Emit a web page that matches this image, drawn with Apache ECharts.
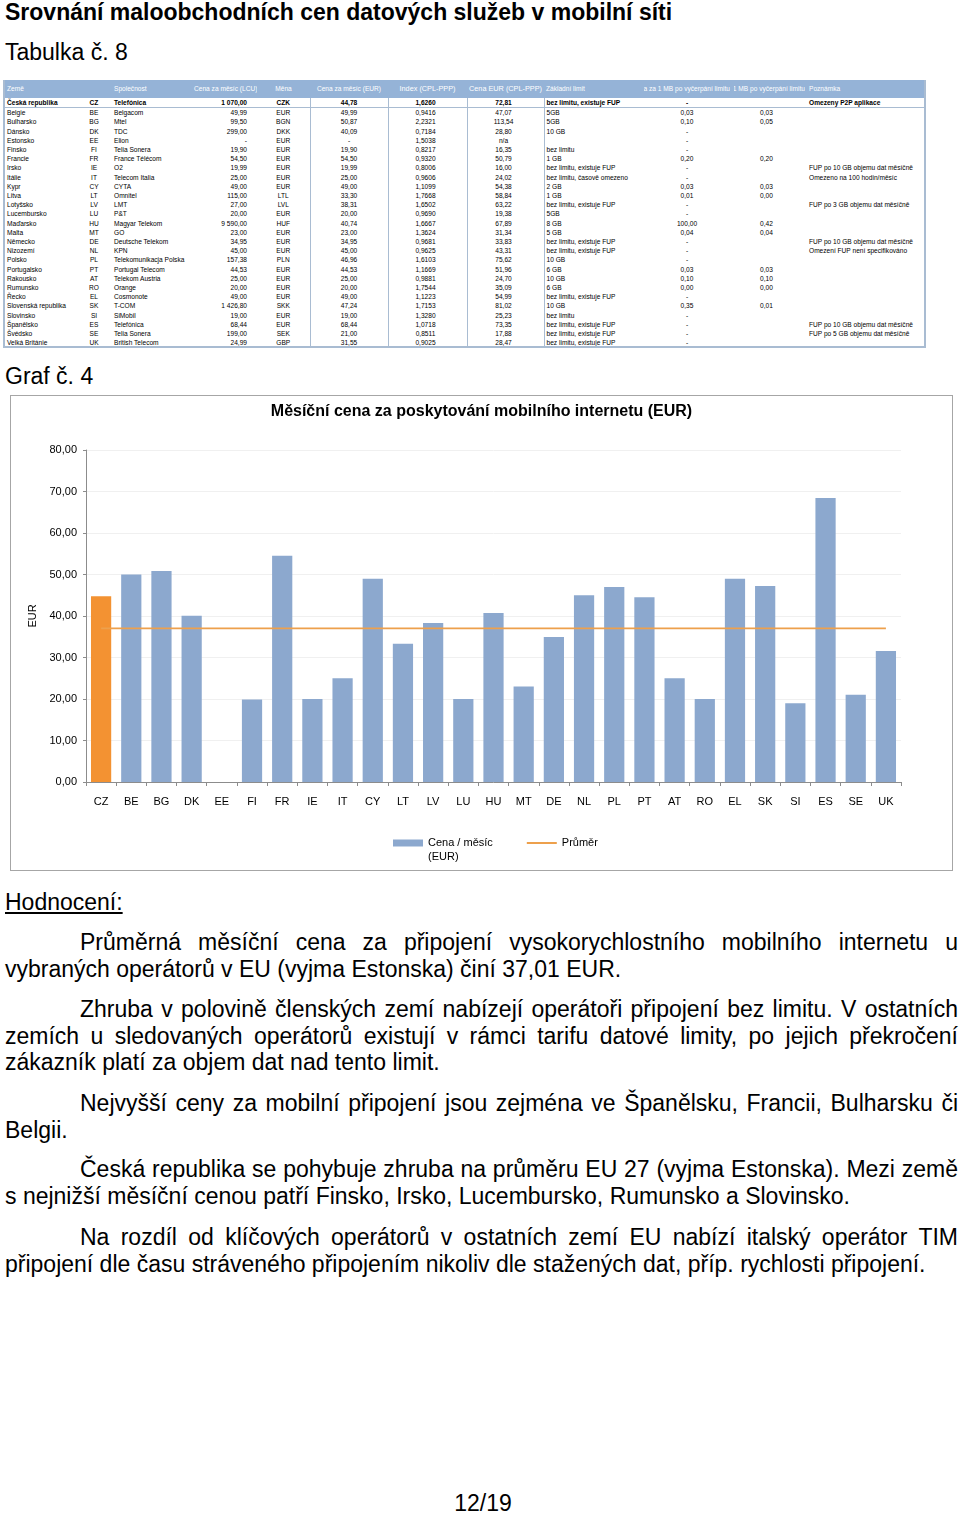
<!DOCTYPE html>
<html lang="cs">
<head>
<meta charset="utf-8">
<script src="https://cdn.jsdelivr.net/npm/echarts@6/dist/echarts.min.js"></script>
<style>
  html, body { margin: 0; padding: 0; background: #fff; }
  body { width: 960px; height: 1514px; position: relative; overflow: hidden; font-family: "Liberation Sans", Arial, sans-serif; color: #000; }
  .abs { position: absolute; }
  #title { left: 5px; top: -1px; font-size: 23px; font-weight: bold; line-height: 26px; white-space: nowrap; }
  .h2 { font-size: 23px; line-height: 26px; white-space: nowrap; }
  #tabwrap { left: 3px; top: 80px; width: 919px; height: 266px; border: 2px solid #a9bcd2; border-top: none; overflow: hidden; }
  table { border-collapse: collapse; table-layout: fixed; width: 919px; font-size: 6.6px; }
  td, th { padding: 0 2px; white-space: nowrap; overflow: hidden; height: 9.2px; line-height: 9.2px; }
  thead th { background: #95b3d7; color: #fff; font-weight: normal; height: 18px; line-height: 18px; font-size: 6.6px; }
  thead th.big { font-size: 7.3px; padding: 0; overflow: visible; }
  .l { text-align: left; } .c { text-align: center; } .r { text-align: right; }
  .vl { border-left: 1px solid #a9bcd2; }
  tr.cz td { font-weight: bold; border-bottom: 1px solid #a9bcd2; }
  .clip { display: flex; justify-content: flex-end; overflow: hidden; white-space: nowrap; }
  #chartbox { left: 10px; top: 395px; width: 941px; height: 474px; border: 1px solid #a6a6a6; }
  #chart { width: 941px; height: 474px; }
  .p { left: 5px; width: 953px; font-size: 23px; line-height: 26.7px; text-align: justify; text-indent: 75px; }
  #hodn { left: 5px; top: 889px; text-decoration: underline; }
  #page { left: 0; width: 966px; top: 1490px; text-align: center; font-size: 23px; line-height: 26px; }
</style>
</head>
<body>
<div id="title" class="abs">Srovnání maloobchodních cen datových služeb v mobilní síti</div>
<div class="abs h2" style="left:5px;top:39px;">Tabulka č. 8</div>
<div id="tabwrap" class="abs"><table id="tab"></table></div>
<div class="abs h2" style="left:5px;top:363px;">Graf č. 4</div>
<div id="chartbox" class="abs"><div id="chart"></div></div>
<div id="hodn" class="abs h2">Hodnocení:</div>
<div class="abs p" style="top:929px;">Průměrná měsíční cena za připojení vysokorychlostního mobilního internetu u vybraných operátorů v EU (vyjma Estonska) činí 37,01 EUR.</div>
<div class="abs p" style="top:996px;">Zhruba v polovině členských zemí nabízejí operátoři připojení bez limitu. V ostatních zemích u sledovaných operátorů existují v rámci tarifu datové limity, po jejich překročení zákazník platí za objem dat nad tento limit.</div>
<div class="abs p" style="top:1090px;">Nejvyšší ceny za mobilní připojení jsou zejména ve Španělsku, Francii, Bulharsku či Belgii.</div>
<div class="abs p" style="top:1156px;">Česká republika se pohybuje zhruba na průměru EU 27 (vyjma Estonska). Mezi země s nejnižší měsíční cenou patří Finsko, Irsko, Lucembursko, Rumunsko a Slovinsko.</div>
<div class="abs p" style="top:1224px;">Na rozdíl od klíčových operátorů v ostatních zemí EU nabízí italský operátor TIM připojení dle času stráveného připojením nikoliv dle stažených dat, příp. rychlosti připojení.</div>
<div id="page" class="abs">12/19</div>

<script>
// ---------- table data ----------
const headers = ["Země", "", "Společnost", "Cena za měsíc (LCU)", "Měna", "Cena za měsíc (EUR)", "Index (CPL-PPP)", "Cena EUR (CPL-PPP)", "Základní limit", "Cena za 1 MB po vyčerpání limitu", "Cena za 1 MB po vyčerpání limitu", "Poznámka"];
const countries = ["Česká republika","Belgie","Bulharsko","Dánsko","Estonsko","Finsko","Francie","Irsko","Itálie","Kypr","Litva","Lotyšsko","Lucembursko","Maďarsko","Malta","Německo","Nizozemí","Polsko","Portugalsko","Rakousko","Rumunsko","Řecko","Slovenská republika","Slovinsko","Španělsko","Švédsko","Velká Británie"];
const codes = ["CZ","BE","BG","DK","EE","FI","FR","IE","IT","CY","LT","LV","LU","HU","MT","DE","NL","PL","PT","AT","RO","EL","SK","SI","ES","SE","UK"];
const companies = ["Telefónica","Belgacom","Mtel","TDC","Elion","Telia Sonera","France Télécom","O2","Telecom Italia","CYTA","Omnitel","LMT","P&T","Magyar Telekom","GO","Deutsche Telekom","KPN","Telekomunikacja Polska","Portugal Telecom","Telekom Austria","Orange","Cosmonote","T-COM","SiMobil","Telefónica","Telia Sonera","British Telecom"];
const priceLcu = ["1 070,00","49,99","99,50","299,00","-","19,90","54,50","19,99","25,00","49,00","115,00","27,00","20,00","9 590,00","23,00","34,95","45,00","157,38","44,53","25,00","20,00","49,00","1 426,80","19,00","68,44","199,00","24,99"];
const currency = ["CZK","EUR","BGN","DKK","EUR","EUR","EUR","EUR","EUR","EUR","LTL","LVL","EUR","HUF","EUR","EUR","EUR","PLN","EUR","EUR","EUR","EUR","SKK","EUR","EUR","SEK","GBP"];
const priceEurText = ["44,78","49,99","50,87","40,09","-","19,90","54,50","19,99","25,00","49,00","33,30","38,31","20,00","40,74","23,00","34,95","45,00","46,96","44,53","25,00","20,00","49,00","47,24","19,00","68,44","21,00","31,55"];
const pppIndex = ["1,6260","0,9416","2,2321","0,7184","1,5038","0,8217","0,9320","0,8006","0,9606","1,1099","1,7668","1,6502","0,9690","1,6667","1,3624","0,9681","0,9625","1,6103","1,1669","0,9881","1,7544","1,1223","1,7153","1,3280","1,0718","0,8511","0,9025"];
const pricePpp = ["72,81","47,07","113,54","28,80","n/a","16,35","50,79","16,00","24,02","54,38","58,84","63,22","19,38","67,89","31,34","33,83","43,31","75,62","51,96","24,70","35,09","54,99","81,02","25,23","73,35","17,88","28,47"];
const baseLimit = ["bez limitu, existuje FUP","5GB","5GB","10 GB","","bez limitu","1 GB","bez limitu, existuje FUP","bez limitu, časově omezeno","2 GB","1 GB","bez limitu, existuje FUP","5GB","8 GB","5 GB","bez limitu, existuje FUP","bez limitu, existuje FUP","10 GB","6 GB","10 GB","6 GB","bez limitu, existuje FUP","10 GB","bez limitu","bez limitu, existuje FUP","bez limitu, existuje FUP","bez limitu, existuje FUP"];
const mbPriceA = ["-","0,03","0,10","-","-","-","0,20","-","-","0,03","0,01","-","-","100,00","0,04","-","-","-","0,03","0,10","0,00","-","0,35","-","-","-","-"];
const mbPriceB = ["","0,03","0,05","","","","0,20","","","0,03","0,00","","","0,42","0,04","","","","0,03","0,10","0,00","","0,01","","","",""];
const notes = ["Omezeny P2P aplikace","","","","","","","FUP po 10 GB objemu dat měsíčně","Omezeno na 100 hodin/měsíc","","","FUP po 3 GB objemu dat měsíčně","","","","FUP po 10 GB objemu dat měsíčně","Omezení FUP není specifikováno","","","","","","","","FUP po 10 GB objemu dat měsíčně","FUP po 5 GB objemu dat měsíčně",""];

// ---------- chart data ----------
const categories = codes;
const priceEur = [44.78,49.99,50.87,40.09,null,19.90,54.50,19.99,25.00,49.00,33.30,38.31,20.00,40.74,23.00,34.95,45.00,46.96,44.53,25.00,20.00,49.00,47.24,19.00,68.44,21.00,31.55];
const average = [37.01,37.01,37.01,37.01,37.01,37.01,37.01,37.01,37.01,37.01,37.01,37.01,37.01,37.01,37.01,37.01,37.01,37.01,37.01,37.01,37.01,37.01,37.01,37.01,37.01,37.01,37.01];
const yTicks = { min: 0, max: 80, interval: 10 };

// ---------- build table ----------
(function () {
  const widths = [77, 24, 86, 65, 53, 78, 79, 77, 98, 90, 75, 117];
  const hAlign = ['l','l','l','c','c','c','c','c','l','r','r','l'];
  const bAlign = ['l','c','l','r','c','c','c','c','l','c','l','l'];
  const vline = [false,false,false,false,false,true,true,true,true,false,false,false];
  const bodyPad = ['', '', 'padding-left:8px', 'padding-right:10px', '', '', 'padding-right:6px', 'padding-right:6px', '', '', 'padding-left:28px', ''];
  let h = '<colgroup>' + widths.map(w => '<col style="width:' + w + 'px">').join('') + '</colgroup>';
  h += '<thead><tr>' + headers.map((t, i) => {
    const big = (i === 6 || i === 7) ? ' big' : '';
    const pad = i === 2 ? ' style="padding-left:8px"' : '';
    if (i === 9 || i === 10) return '<th class="' + hAlign[i] + '"><div class="clip">' + t + '</div></th>';
    return '<th class="' + hAlign[i] + big + '"' + pad + '>' + t + '</th>';
  }).join('') + '</tr></thead><tbody>';
  for (let r = 0; r < countries.length; r++) {
    const cells = [countries[r], codes[r], companies[r], priceLcu[r], currency[r], priceEurText[r], pppIndex[r], pricePpp[r], baseLimit[r], mbPriceA[r], mbPriceB[r], notes[r]];
    h += '<tr' + (r === 0 ? ' class="cz"' : '') + '>' + cells.map((c, i) => {
      const cls = bAlign[i] + (vline[i] ? ' vl' : '');
      const style = bodyPad[i] ? ' style="' + bodyPad[i] + '"' : '';
      return '<td class="' + cls + '"' + style + '>' + c + '</td>';
    }).join('') + '</tr>';
  }
  h += '</tbody>';
  document.getElementById('tab').innerHTML = h;
})();

// ---------- chart ----------
const chart = echarts.init(document.getElementById('chart'), null, { renderer: 'canvas' });
const font = 'Liberation Sans';
chart.setOption({
  animation: false,
  textStyle: { fontFamily: font },
  title: {
    text: 'Měsíční cena za poskytování mobilního internetu (EUR)',
    left: 'center', top: 3,
    textStyle: { fontSize: 16, fontWeight: 'bold', color: '#000', fontFamily: font }
  },
  legend: {
    left: 377, top: 421,
    itemWidth: 30, itemHeight: 7, itemGap: 34,
    textStyle: { fontSize: 11, color: '#000', lineHeight: 14, fontFamily: font },
    formatter: function (n) { return n === 'Cena / měsíc (EUR)' ? ' \nCena / měsíc\n(EUR)' : n; },
    data: [
      { name: 'Cena / měsíc (EUR)', icon: 'rect' },
      { name: 'Průměr', icon: 'path://M0,0H30V2H0Z' }
    ]
  },
  grid: { left: 75, right: 51, top: 54, bottom: 88 },
  xAxis: {
    type: 'category',
    data: categories,
    axisLine: { lineStyle: { color: '#8c8c8c' } },
    axisTick: { show: true, length: 4, lineStyle: { color: '#8c8c8c' } },
    axisLabel: { fontSize: 11, color: '#000', margin: 14, fontFamily: font }
  },
  yAxis: {
    type: 'value',
    min: yTicks.min, max: yTicks.max, interval: yTicks.interval,
    name: 'EUR', nameLocation: 'middle', nameGap: 47, nameRotate: 90,
    nameTextStyle: { fontSize: 11, color: '#000', fontFamily: font },
    axisLine: { show: true, lineStyle: { color: '#8c8c8c' } },
    axisTick: { show: true, length: 3, lineStyle: { color: '#8c8c8c' } },
    axisLabel: { fontSize: 11, color: '#000', margin: 9, fontFamily: font,
      formatter: function (v) { return v.toFixed(2).replace('.', ','); } },
    splitLine: { show: true, lineStyle: { color: '#f0f0f0' } }
  },
  series: [
    {
      name: 'Cena / měsíc (EUR)',
      type: 'bar',
      barCategoryGap: '33%',
      itemStyle: { color: '#8ca8ce' },
      data: priceEur.map((v, i) => i === 0 ? { value: v, itemStyle: { color: '#f39232' } } : v),
      z: 2
    },
    {
      name: 'Průměr',
      type: 'line',
      data: average,
      showSymbol: false,
      symbol: 'none',
      itemStyle: { color: '#eda04c' },
      lineStyle: { color: '#eda04c', width: 1.6 },
      z: 3
    }
  ]
});
</script>
</body>
</html>
